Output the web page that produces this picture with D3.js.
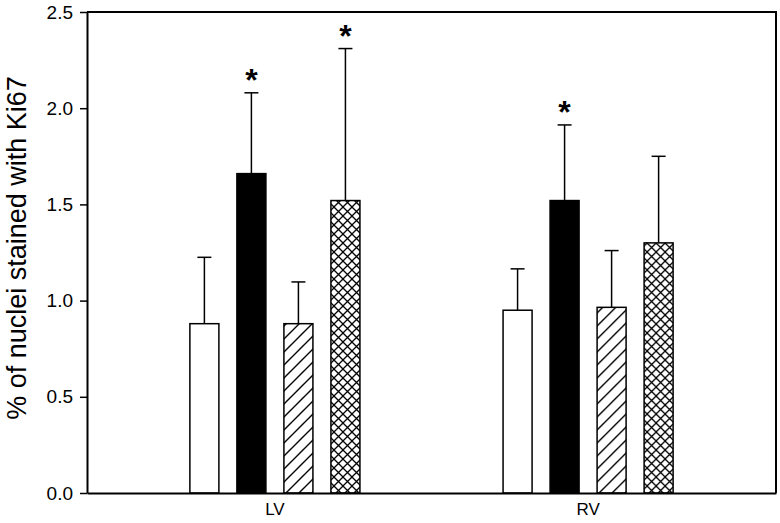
<!DOCTYPE html>
<html>
<head>
<meta charset="utf-8">
<script src="https://cdn.jsdelivr.net/npm/d3@7"></script>
<style>
  body { margin: 0; background: #fff; }
  text { font-family: "Liberation Sans", Arial, sans-serif; fill: #000; }
</style>
</head>
<body>
<div id="chart"></div>
<script>
// data
var groups = ["LV", "RV"];
var series = ["s1", "s2", "s3", "s4"];
var means = [
  [0.88, 1.66, 0.88, 1.52],
  [0.95, 1.52, 0.965, 1.30]
];
var errTops = [
  [1.225, 2.08, 1.097, 2.31],
  [1.165, 1.913, 1.26, 1.75]
];
var stars = [
  [false, true, false, true],
  [false, true, false, false]
];
var yTicks = [0, 0.5, 1.0, 1.5, 2.0, 2.5];

var width = 780, height = 523;
var margin = { top: 12, right: 4, bottom: 30, left: 87 };

var svg = d3.select("#chart").append("svg")
    .attr("width", width)
    .attr("height", height);

var defs = svg.append("defs");

// single hatch "/"
var hatch = defs.append("pattern")
    .attr("id", "hatch")
    .attr("patternUnits", "userSpaceOnUse")
    .attr("width", 13).attr("height", 13);
hatch.append("rect").attr("width", 13).attr("height", 13).attr("fill", "#fff");
hatch.append("path")
    .attr("d", "M-3,3 L3,-3 M0,13 L13,0 M10,16 L16,10")
    .attr("stroke", "#000").attr("stroke-width", 1.4);

// cross hatch
var cross = defs.append("pattern")
    .attr("id", "cross")
    .attr("patternUnits", "userSpaceOnUse")
    .attr("width", 9).attr("height", 9);
cross.append("rect").attr("width", 9).attr("height", 9).attr("fill", "#fff");
cross.append("path")
    .attr("d", "M0,0 L9,9 M0,9 L9,0")
    .attr("stroke", "#000").attr("stroke-width", 1.3);

var fills = ["#fff", "#000", "url(#hatch)", "url(#cross)"];

var x0 = d3.scaleBand()
    .domain(groups)
    .range([margin.left, width - margin.right])
    .paddingInner(0.4)
    .paddingOuter(0.3);

var x1 = d3.scaleBand()
    .domain(series)
    .range([0, x0.bandwidth()])
    .paddingInner(0.383)
    .paddingOuter(0.19);

var y = d3.scaleLinear()
    .domain([0, 2.5])
    .range([height - margin.bottom, margin.top]);

// frame (top + right)
svg.append("path")
    .attr("d", "M" + margin.left + "," + y(2.5) + " H" + (width - margin.right) + " V" + y(0))
    .attr("fill", "none").attr("stroke", "#000").attr("stroke-width", 2);

var g = svg.selectAll(".grp")
    .data(groups)
  .enter().append("g")
    .attr("class", "grp")
    .attr("transform", function (d) { return "translate(" + x0(d) + ",0)"; });

g.each(function (grp, gi) {
    var sel = d3.select(this);
    series.forEach(function (s, si) {
        var cx = x1(s) + x1.bandwidth() / 2;
        // error bar (upper only)
        sel.append("line")
            .attr("x1", cx).attr("x2", cx)
            .attr("y1", y(means[gi][si])).attr("y2", y(errTops[gi][si]))
            .attr("stroke", "#000").attr("stroke-width", 1.5);
        sel.append("line")
            .attr("x1", cx - 7).attr("x2", cx + 7)
            .attr("y1", y(errTops[gi][si])).attr("y2", y(errTops[gi][si]))
            .attr("stroke", "#000").attr("stroke-width", 1.5);
        sel.append("rect")
            .attr("x", x1(s))
            .attr("y", y(means[gi][si]))
            .attr("width", x1.bandwidth())
            .attr("height", y(0) - y(means[gi][si]))
            .attr("fill", fills[si])
            .attr("stroke", "#000").attr("stroke-width", 1.5);
        if (stars[gi][si]) {
            sel.append("text")
                .attr("x", cx)
                .attr("y", y(errTops[gi][si]) - 2)
                .attr("text-anchor", "middle")
                .style("font-size", "32px")
                .attr("font-weight", "bold")
                .text("*");
        }
    });
});

// y axis
var yAxis = svg.append("g")
    .attr("transform", "translate(" + margin.left + ",0)")
    .call(d3.axisLeft(y).tickValues(yTicks).tickFormat(d3.format(".1f")).tickSize(7).tickSizeOuter(0));
yAxis.select(".domain").attr("stroke-width", 2);
yAxis.selectAll(".tick line").attr("stroke-width", 1.5);
yAxis.selectAll(".tick text")
    .attr("x", -14)
    .style("font-size", "19px")
    .style("font-family", "Liberation Sans, Arial, sans-serif");

// x axis
var xAxis = svg.append("g")
    .attr("transform", "translate(0," + y(0) + ")")
    .call(d3.axisBottom(x0).tickSize(0).tickPadding(10));
xAxis.select(".domain").attr("stroke-width", 2);
xAxis.selectAll(".tick text")
    .style("font-size", "17px")
    .style("font-family", "Liberation Sans, Arial, sans-serif");

// y title
svg.append("text")
    .attr("transform", "translate(26,248) rotate(-90)")
    .attr("text-anchor", "middle")
    .style("font-size", "27px")
    .text("% of nuclei stained with Ki67");
</script>
</body>
</html>
